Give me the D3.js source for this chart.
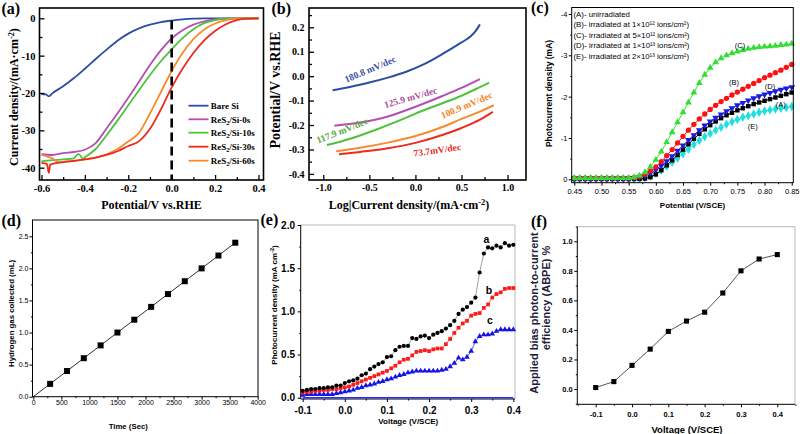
<!DOCTYPE html>
<html><head><meta charset="utf-8">
<script src="https://cdn.jsdelivr.net/npm/d3@7"></script>
<style>body{margin:0;background:#fff}svg{display:block}</style>
</head><body><script>
// ================= DATA =================
// (a) LSV curves
const aBareX = [-0.6,-0.58,-0.566,-0.55,-0.5,-0.45,-0.4,-0.35,-0.3,-0.25,-0.2,-0.15,-0.1,-0.05,0,0.05,0.1,0.15,0.2,0.3,0.4];
const aBareY = [-20.3,-20.4,-20.9,-20.1,-18.2,-16.0,-13.5,-10.9,-8.4,-6.0,-4.1,-2.7,-1.7,-1.0,-0.6,-0.3,-0.1,0,0,0,0];
const a0X = [-0.6,-0.55,-0.5,-0.45,-0.4,-0.35,-0.3,-0.25,-0.2,-0.15,-0.1,-0.05,0,0.05,0.1,0.15,0.2,0.25,0.3,0.4];
const a0Y = [-36.4,-36.6,-36.1,-35.8,-35.2,-33.4,-29.5,-25.5,-21.3,-16.9,-12.5,-8.6,-5.4,-3.2,-1.7,-0.8,-0.3,-0.1,0,0];
const a10X = [-0.6,-0.55,-0.5,-0.45,-0.43,-0.42,-0.41,-0.4,-0.35,-0.3,-0.25,-0.2,-0.15,-0.1,-0.05,0,0.05,0.1,0.15,0.2,0.25,0.3,0.4];
const a10Y = [-38.3,-38.0,-37.8,-37.5,-36.3,-36.8,-37.6,-37.2,-35.0,-31.3,-27.4,-23.3,-19.2,-15.2,-11.5,-8.3,-5.3,-2.9,-1.3,-0.5,-0.1,0,0];
const a30X = [-0.6,-0.575,-0.566,-0.56,-0.5,-0.45,-0.4,-0.35,-0.3,-0.25,-0.2,-0.15,-0.1,-0.05,0,0.05,0.1,0.15,0.2,0.25,0.3,0.35,0.4];
const a30Y = [-38.7,-39.0,-41.4,-39.2,-38.5,-38.2,-37.8,-37.3,-36.6,-35.6,-34.2,-32.9,-29.6,-24.4,-18.5,-13.5,-9.3,-5.9,-3.4,-1.6,-0.5,-0.1,0];
const a60X = [-0.6,-0.575,-0.55,-0.52,-0.5,-0.45,-0.4,-0.35,-0.3,-0.25,-0.2,-0.15,-0.1,-0.05,0,0.05,0.1,0.15,0.2,0.25,0.3,0.35,0.4];
const a60Y = [-36.6,-37.0,-37.5,-38.6,-38.5,-38.2,-37.8,-37.3,-36.4,-35.0,-33.0,-30.6,-25.5,-19.8,-14.1,-9.3,-5.6,-3.0,-1.4,-0.5,-0.1,0,0];
const aLegendPre = ["Bare Si","ReS","ReS","ReS","ReS"];
const aLegendSub = ["","2","2","2","2"];
const aLegendSuf = ["","/Si-0s","/Si-10s","/Si-30s","/Si-60s"];
const aXTicks = [-0.6,-0.4,-0.2,0,0.2,0.4], aXMinor = [-0.5,-0.3,-0.1,0.1,0.3];
const aYTicks = [0,-10,-20,-30,-40], aYMinor = [-5,-15,-25,-35];

// (b) Tafel
const bBlueX = [-0.9,-0.7,-0.5,-0.3,-0.1,0.1,0.3,0.5,0.6,0.65,0.7];
const bBlueY = [-0.058,-0.043,-0.026,-0.006,0.018,0.05,0.092,0.138,0.163,0.183,0.212];
const bPurpleX = [-0.88,-0.6,-0.3,0,0.3,0.5,0.7];
const bPurpleY = [-0.203,-0.19,-0.165,-0.125,-0.08,-0.048,-0.012];
const bGreenX = [-0.96,-0.7,-0.4,-0.1,0,0.3,0.5,0.7,0.8];
const bGreenY = [-0.282,-0.255,-0.215,-0.17,-0.153,-0.11,-0.08,-0.045,-0.027];
const bOrangeX = [-0.86,-0.6,-0.3,0,0.3,0.5,0.7,0.85];
const bOrangeY = [-0.307,-0.293,-0.272,-0.245,-0.207,-0.175,-0.145,-0.119];
const bRedX = [-0.83,-0.6,-0.3,0,0.3,0.5,0.7,0.84];
const bRedY = [-0.32,-0.31,-0.295,-0.273,-0.24,-0.212,-0.178,-0.146];
const bNotes = ["180.8 mV/dec","125.9 mV/dec","117.9 mV/dec","100.9 mV/dec","73.7mV/dec"];
const bXTicks = [-1,-0.5,0,0.5,1], bXMinor = [-0.75,-0.25,0.25,0.75];
const bYTicks = [-0.4,-0.3,-0.2,-0.1,0,0.1,0.2], bYMinor = [-0.35,-0.25,-0.15,-0.05,0.05,0.15,0.25];

// (c) photocurrent vs potential
const cX = [0.45,0.46,0.47,0.48,0.49,0.50,0.51,0.52,0.53,0.54,0.55,0.56,0.57,0.58,0.59,0.60,0.61,0.62,0.63,0.64,0.65,0.66,0.67,0.68,0.69,0.70,0.71,0.72,0.73,0.74,0.75,0.76,0.77,0.78,0.79,0.80,0.81,0.82,0.83,0.84,0.85];
const cA = [-0.01,-0.01,-0.01,-0.01,-0.01,-0.01,-0.01,-0.01,-0.01,-0.01,-0.01,-0.01,-0.01,-0.02,-0.05,-0.12,-0.22,-0.34,-0.46,-0.59,-0.72,-0.85,-0.98,-1.10,-1.21,-1.31,-1.40,-1.48,-1.55,-1.61,-1.67,-1.72,-1.77,-1.82,-1.86,-1.90,-1.94,-1.98,-2.02,-2.06,-2.10];
const cB = [-0.03,-0.03,-0.03,-0.03,-0.03,-0.03,-0.03,-0.03,-0.03,-0.03,-0.03,-0.04,-0.07,-0.12,-0.20,-0.30,-0.43,-0.57,-0.72,-0.88,-1.04,-1.19,-1.33,-1.46,-1.58,-1.69,-1.79,-1.88,-1.96,-2.04,-2.11,-2.18,-2.25,-2.32,-2.39,-2.46,-2.52,-2.58,-2.64,-2.71,-2.78];
const cC = [-0.03,-0.03,-0.03,-0.03,-0.03,-0.03,-0.03,-0.03,-0.03,-0.03,-0.03,-0.05,-0.09,-0.17,-0.30,-0.47,-0.67,-0.90,-1.14,-1.38,-1.62,-1.86,-2.10,-2.33,-2.53,-2.70,-2.83,-2.93,-3.00,-3.05,-3.09,-3.13,-3.16,-3.18,-3.20,-3.21,-3.22,-3.23,-3.25,-3.26,-3.28];
const cD = [-0.02,-0.02,-0.02,-0.02,-0.02,-0.02,-0.02,-0.02,-0.02,-0.02,-0.02,-0.03,-0.05,-0.09,-0.15,-0.23,-0.33,-0.44,-0.56,-0.69,-0.82,-0.95,-1.07,-1.19,-1.30,-1.40,-1.49,-1.57,-1.65,-1.72,-1.79,-1.85,-1.91,-1.96,-2.01,-2.05,-2.09,-2.13,-2.17,-2.20,-2.23];
const cE = [-0.01,-0.01,-0.01,-0.01,-0.01,-0.01,-0.01,-0.01,-0.01,-0.01,-0.01,-0.01,-0.02,-0.04,-0.08,-0.14,-0.22,-0.31,-0.41,-0.51,-0.62,-0.73,-0.84,-0.94,-1.03,-1.11,-1.19,-1.26,-1.33,-1.39,-1.45,-1.50,-1.54,-1.58,-1.62,-1.65,-1.68,-1.70,-1.72,-1.74,-1.76];
const cLegend = ["(A)- unirradiated","(B)- irradiated at 1×10¹² ions/cm²)","(C)- irradiated at 5×10¹² ions/cm²)","(D)- irradiated at 1×10¹³ ions/cm²)","(E)- irradiated at 2×10¹³ ions/cm²)"];
const cTags = ["(C)","(B)","(D)","(A)","(E)"];
const cXTicks = [0.45,0.50,0.55,0.60,0.65,0.70,0.75,0.80,0.85], cXMinor = [0.475,0.525,0.575,0.625,0.675,0.725,0.775,0.825];
const cYTicks = [0,-1,-2,-3,-4], cYMinor = [-0.5,-1.5,-2.5,-3.5];

// (d) hydrogen collected
const dX = [0,300,600,900,1200,1500,1800,2100,2400,2700,3000,3300,3600];
const dY = [0,0.2,0.4,0.6,0.8,1.0,1.2,1.4,1.6,1.8,2.0,2.2,2.4];
const dXTicks = [0,500,1000,1500,2000,2500,3000,3500,4000], dXMinor = [250,750,1250,1750,2250,2750,3250,3750];
const dYTicks = [0,0.5,1.0,1.5,2.0,2.5], dYMinor = [0.25,0.75,1.25,1.75,2.25];

// (e) photocurrent vs voltage
const eX = [-0.10,-0.09,-0.08,-0.07,-0.06,-0.05,-0.04,-0.03,-0.02,-0.01,0.00,0.01,0.02,0.03,0.04,0.05,0.06,0.07,0.08,0.09,0.10,0.11,0.12,0.13,0.14,0.15,0.16,0.17,0.18,0.19,0.20,0.21,0.22,0.23,0.24,0.25,0.26,0.27,0.28,0.29,0.30,0.31,0.32,0.33,0.34,0.35,0.36,0.37,0.38,0.39,0.40];
const eA = [0.08,0.09,0.10,0.10,0.11,0.11,0.12,0.12,0.14,0.14,0.17,0.19,0.20,0.22,0.26,0.28,0.33,0.36,0.39,0.41,0.47,0.48,0.55,0.59,0.60,0.60,0.69,0.68,0.71,0.72,0.69,0.73,0.75,0.77,0.80,0.84,0.89,0.97,1.02,1.05,1.10,1.16,1.45,1.67,1.74,1.73,1.76,1.74,1.79,1.76,1.77];
const eB = [0.06,0.07,0.07,0.08,0.08,0.09,0.09,0.10,0.10,0.11,0.12,0.13,0.15,0.17,0.19,0.21,0.23,0.25,0.27,0.29,0.31,0.34,0.37,0.41,0.44,0.45,0.49,0.53,0.54,0.55,0.54,0.56,0.57,0.57,0.62,0.68,0.75,0.81,0.86,0.89,0.95,0.97,0.98,1.04,1.08,1.16,1.20,1.22,1.26,1.27,1.27];
const eC = [0.03,0.04,0.04,0.04,0.04,0.04,0.04,0.04,0.05,0.06,0.07,0.08,0.09,0.11,0.12,0.14,0.15,0.16,0.18,0.19,0.21,0.22,0.24,0.26,0.27,0.29,0.30,0.31,0.31,0.31,0.31,0.31,0.31,0.32,0.33,0.36,0.40,0.46,0.44,0.47,0.54,0.65,0.71,0.73,0.73,0.74,0.77,0.79,0.79,0.79,0.79];
const eDarkX = [-0.1,0.4], eDarkY = [0,0];
const eTags = ["a","b","c"];
const eXTicks = [-0.1,0,0.1,0.2,0.3,0.4], eXMinor = [-0.05,0.05,0.15,0.25,0.35];
const eYTicks = [0,0.5,1.0,1.5,2.0], eYMinor = [0.25,0.75,1.25,1.75];

// (f) ABPE
const fX = [-0.1,-0.05,0,0.05,0.1,0.15,0.2,0.25,0.3,0.35,0.4];
const fY = [0.01,0.05,0.16,0.27,0.39,0.46,0.52,0.65,0.80,0.88,0.91];
const fXTicks = [-0.1,0,0.1,0.2,0.3,0.4], fXMinor = [-0.15,-0.05,0.05,0.15,0.25,0.35,0.45];
const fYTicks = [0,0.2,0.4,0.6,0.8,1.0], fYMinor = [-0.1,0.1,0.3,0.5,0.7,0.9,1.1];

// ================= DRAWING =================
const SERIF = "'Liberation Serif','Times New Roman',serif";
const SANS = "'Liberation Sans',Arial,Helvetica,sans-serif";
const svg = d3.select("body").append("svg").attr("width",800).attr("height",434);
svg.append("rect").attr("width",800).attr("height",434).attr("fill","#fff");

function pts(xs, ys){ return xs.map((v,i)=>[v, ys[i]]); }
function drawLine(g, xs, ys, sx, sy, color, w, curve){
  g.append("path").datum(pts(xs,ys))
    .attr("d", d3.line().x(d=>sx(d[0])).y(d=>sy(d[1])).curve(curve||d3.curveLinear))
    .attr("fill","none").attr("stroke",color).attr("stroke-width",w).attr("stroke-linejoin","round");
}
function drawMarks(g, xs, ys, sx, sy, type, size, color, rot, skip){
  g.selectAll(null).data(pts(xs,ys).filter((d,i)=>!(skip && skip(i)))).enter().append("path")
    .attr("d", d3.symbol().type(type).size(size))
    .attr("transform", d=>`translate(${sx(d[0])},${sy(d[1])})` + (rot?` rotate(${rot})`:""))
    .attr("fill", color);
}
function drawAxis(g, gen, tx, ty, o){
  const ag = g.append("g").attr("transform",`translate(${tx},${ty})`).call(gen);
  ag.select(".domain").remove();
  ag.selectAll(".tick line").attr("stroke","#000").attr("stroke-width",o.tw||1);
  ag.selectAll(".tick text").attr("font-family",o.ff).attr("font-size",o.fs)
    .attr("font-weight",o.fw||"bold").attr("fill","#000");
  return ag;
}
function axes(g, sx, sy, P, o){
  drawAxis(g, d3.axisBottom(sx).tickValues(o.xt).tickFormat(o.xf).tickSize(o.ts).tickPadding(o.xp), 0, P.y1, o);
  drawAxis(g, d3.axisBottom(sx).tickValues(o.xm).tickFormat("").tickSize(o.ms), 0, P.y1, o);
  drawAxis(g, d3.axisLeft(sy).tickValues(o.yt).tickFormat(o.yf).tickSize(o.ts).tickPadding(o.yp), P.x0, 0, o);
  drawAxis(g, d3.axisLeft(sy).tickValues(o.ym).tickFormat("").tickSize(o.ms), P.x0, 0, o);
}
function frame(g, P, w, color){
  g.append("rect").attr("x",P.x0).attr("y",P.y0).attr("width",P.x1-P.x0).attr("height",P.y1-P.y0)
    .attr("fill","none").attr("stroke",color||"#000").attr("stroke-width",w);
}
function openFrame(g, P, w){
  g.append("path").attr("d",`M${P.x0},${P.y0}H${P.x1}V${P.y1}`).attr("fill","none").attr("stroke","#b8b8b8").attr("stroke-width",1);
  g.append("path").attr("d",`M${P.x0},${P.y0}V${P.y1}H${P.x1}`).attr("fill","none").attr("stroke","#000").attr("stroke-width",w);
}
function txt(g, x, y, s, ff, fs, fw, anchor, color){
  return g.append("text").attr("x",x).attr("y",y).attr("font-family",ff).attr("font-size",fs)
    .attr("font-weight",fw).attr("text-anchor",anchor||"start").attr("fill",color||"#000").text(s);
}
function vtxt(g, x, y, ff, fs, fw, color){
  return g.append("text").attr("transform",`translate(${x},${y}) rotate(-90)`).attr("font-family",ff)
    .attr("font-size",fs).attr("font-weight",fw).attr("text-anchor","middle").attr("fill",color||"#000");
}
function sup(t, s, d){ t.append("tspan").attr("dy",-d).attr("font-size","70%").text(s); }
function after(t, s, d){ t.append("tspan").attr("dy",d).text(s); }

// ---------- (a) ----------
{
  const P = {x0:39.5, x1:263.5, y0:8, y1:180};
  const x = d3.scaleLinear().domain([-0.609,0.423]).range([P.x0,P.x1]);
  const y = d3.scaleLinear().domain([-43.3,2.76]).range([P.y1,P.y0]);
  const g = svg.append("g");
  const cols = ["#2b4ea3","#b24fb2","#4fc23a","#ee2a1e","#f68b2b"];
  drawLine(g, aBareX, aBareY, x, y, cols[0], 1.8, d3.curveMonotoneX);
  drawLine(g, a0X, a0Y, x, y, cols[1], 1.8, d3.curveMonotoneX);
  drawLine(g, a10X, a10Y, x, y, cols[2], 1.8, d3.curveMonotoneX);
  drawLine(g, a60X, a60Y, x, y, cols[4], 1.8, d3.curveMonotoneX);
  drawLine(g, a30X, a30Y, x, y, cols[3], 1.8, d3.curveMonotoneX);
  g.append("line").attr("x1",x(0)).attr("x2",x(0)).attr("y1",y(-0.6)).attr("y2",P.y1)
    .attr("stroke","#000").attr("stroke-width",2.6).attr("stroke-dasharray","9,5");
  frame(g, P, 1.6);
  axes(g, x, y, P, {xt:aXTicks, xm:aXMinor, yt:aYTicks, ym:aYMinor, xf:d=>d.toFixed(1), yf:d=>String(d),
    ts:-5, ms:-3, xp:4.5, yp:4, ff:SERIF, fs:10.5, tw:1.3});
  const ly = [105.7,119.3,132.7,146.7,160.7];
  ly.forEach((yy,i)=>{
    g.append("line").attr("x1",188.5).attr("x2",208.5).attr("y1",yy).attr("y2",yy).attr("stroke",cols[i]).attr("stroke-width",1.8);
    const t = txt(g, 210.7, yy+3.2, aLegendPre[i], SERIF, 9, "bold");
    if (aLegendSub[i]) {
      t.append("tspan").attr("dy",2).attr("font-size","70%").text(aLegendSub[i]);
      t.append("tspan").attr("dy",-2).text(aLegendSuf[i]);
    }
  });
  txt(g, 151.5, 209, "Potential/V vs.RHE", SERIF, 12, "bold", "middle");
  const t = vtxt(g, 18.2, 97, SERIF, 12, "bold");
  t.append("tspan").text("Current density/(mA·cm"); sup(t,"-2",4); after(t,")",4);
  txt(g, 1.5, 13.5, "(a)", SERIF, 16, "bold");
}

// ---------- (b) ----------
{
  const P = {x0:309, x1:526, y0:8, y1:180};
  const x = d3.scaleLinear().domain([-1.155,1.2]).range([P.x0,P.x1]);
  const y = d3.scaleLinear().domain([-0.425,0.279]).range([P.y1,P.y0]);
  const g = svg.append("g");
  const cols = ["#2b4ea3","#b24fb2","#4fc23a","#f68b2b","#ee2a1e"];
  drawLine(g, bBlueX, bBlueY, x, y, cols[0], 2, d3.curveMonotoneX);
  drawLine(g, bPurpleX, bPurpleY, x, y, cols[1], 2, d3.curveMonotoneX);
  drawLine(g, bGreenX, bGreenY, x, y, cols[2], 2, d3.curveMonotoneX);
  drawLine(g, bOrangeX, bOrangeY, x, y, cols[3], 2, d3.curveMonotoneX);
  drawLine(g, bRedX, bRedY, x, y, cols[4], 2, d3.curveMonotoneX);
  frame(g, P, 1.6);
  axes(g, x, y, P, {xt:bXTicks, xm:bXMinor, yt:bYTicks, ym:bYMinor, xf:d=>d.toFixed(1), yf:d=>d.toFixed(1),
    ts:-5, ms:-3, xp:3.5, yp:4.5, ff:SERIF, fs:10, tw:1.3});
  const notePos = [[370.3,69.3,-23],[410.7,97.7,-16],[342.3,130.7,-21.5],[466.7,105.3,-22.7],[437.3,150.3,-8]];
  const noteCol = ["#3a4fa3","#a94d9e","#55aa3a","#f08424","#e52a20"];
  notePos.forEach((p,i)=>{
    g.append("text").attr("transform",`translate(${p[0]},${p[1]}) rotate(${p[2]})`)
      .attr("font-family",SERIF).attr("font-size",9.5).attr("font-weight","bold")
      .attr("text-anchor","middle").attr("dominant-baseline","central").attr("fill",noteCol[i]).text(bNotes[i]);
  });
  const t1 = txt(g, 409, 209, "Log|Current density/(mA·cm", SERIF, 12, "bold", "middle");
  sup(t1,"-2",4); after(t1,")",4);
  vtxt(g, 279.5, 90, SERIF, 14, "bold").text("Potential/V vs.RHE");
  txt(g, 271.5, 13.5, "(b)", SERIF, 16, "bold");
}

// ---------- (c) ----------
{
  const P = {x0:571.7, x1:793.3, y0:7.5, y1:182.7};
  const x = d3.scaleLinear().domain([0.4452,0.8529]).range([P.x0,P.x1]);
  const y = d3.scaleLinear().domain([0.082,-4.157]).range([P.y1,P.y0]);
  const g = svg.append("g");
  const series = [
    [cE,"#22dede",d3.symbolDiamond,26,0],
    [cA,"#000000",d3.symbolSquare,20,0],
    [cD,"#1a1ae0",d3.symbolTriangle,20,180],
    [cB,"#ff1010",d3.symbolCircle,22,0],
    [cC,"#33dd33",d3.symbolTriangle,20,0]
  ];
  series.forEach(s=>{
    drawLine(g, cX, s[0], x, y, s[1], 1);
    drawMarks(g, cX, s[0], x, y, s[2], s[3], s[1], s[4]);
  });
  frame(g, P, 1);
  axes(g, x, y, P, {xt:cXTicks, xm:cXMinor, yt:cYTicks, ym:cYMinor, xf:d=>d.toFixed(2), yf:d=>String(d),
    ts:3, ms:1.5, xp:2.5, yp:1.2, ff:SANS, fs:7.5, fw:"normal", tw:1});
  const ly = [16.8,27.1,37.5,48.1,58.8];
  cLegend.forEach((s,i)=> txt(g, 573.5, ly[i], s, SANS, 7.8, "normal"));
  const tagPos = [[740,48],[734,84.7],[770,89],[780.7,107],[752.7,129]];
  cTags.forEach((s,i)=> txt(g, tagPos[i][0], tagPos[i][1], s, SANS, 7.5, "normal", "middle"));
  txt(g, 692.5, 208, "Potential (V/SCE)", SANS, 8, "bold", "middle");
  vtxt(g, 552.3, 93.5, SANS, 8.5, "bold").text("Photocurrent density (mA)");
  txt(g, 531, 12.5, "(c)", SERIF, 16, "bold");
}

// ---------- (d) ----------
{
  const P = {x0:32.5, x1:258, y0:220, y1:396.7};
  const x = d3.scaleLinear().domain([-14.3,4005]).range([P.x0,P.x1]);
  const y = d3.scaleLinear().domain([0,2.754]).range([P.y1,P.y0]);
  const g = svg.append("g");
  drawLine(g, dX, dY, x, y, "#333", 1);
  drawMarks(g, dX, dY, x, y, d3.symbolSquare, 36, "#000", 0, i=>i===0);
  frame(g, P, 1);
  axes(g, x, y, P, {xt:dXTicks, xm:dXMinor, yt:dYTicks, ym:dYMinor, xf:d=>String(d), yf:d=>d.toFixed(1),
    ts:3, ms:1.5, xp:0.5, yp:1, ff:SANS, fs:7, fw:"normal", tw:1});
  txt(g, 128.3, 428.5, "Time (Sec)", SANS, 7.8, "bold", "middle");
  vtxt(g, 13.5, 313.5, SANS, 7.8, "bold").text("Hydrogen gas collected (mL)");
  txt(g, 1.5, 226, "(d)", SERIF, 16, "bold");
}

// ---------- (e) ----------
{
  const P = {x0:300.7, x1:515, y0:225, y1:399};
  const x = d3.scaleLinear().domain([-0.1047,0.404]).range([P.x0,P.x1]);
  const y = d3.scaleLinear().domain([-0.015,2.0]).range([P.y1,P.y0]);
  const g = svg.append("g");
  openFrame(g, P, 1);
  drawLine(g, eX, eC, x, y, "#2a2af0", 0.8);
  drawLine(g, eX, eB, x, y, "#ff4a4a", 0.8);
  drawLine(g, eX, eA, x, y, "#888", 0.8);
  drawMarks(g, eX, eC, x, y, d3.symbolTriangle, 14, "#1414e6");
  drawMarks(g, eX, eB, x, y, d3.symbolSquare, 14, "#ff1a1a");
  drawMarks(g, eX, eA, x, y, d3.symbolCircle, 14, "#000");
  drawLine(g, eDarkX, eDarkY, x, y, "#2a2af0", 1.6);
  axes(g, x, y, P, {xt:eXTicks, xm:eXMinor, yt:eYTicks, ym:eYMinor, xf:d=>d.toFixed(1), yf:d=>d.toFixed(1),
    ts:3, ms:1.5, xp:4.5, yp:2.7, ff:SANS, fs:10, fw:"bold", tw:1});
  const tagPos = [[486.5,242.5],[489,293.5],[490,324]];
  eTags.forEach((s,i)=> txt(g, tagPos[i][0], tagPos[i][1], s, SANS, 10.5, "bold", "middle"));
  txt(g, 408.3, 423.5, "Voltage (V/SCE)", SANS, 8, "bold", "middle");
  const t = vtxt(g, 277, 305, SANS, 8, "bold");
  t.append("tspan").text("Photocurrent density (mA cm"); sup(t,"-2",3); after(t,")",3);
  txt(g, 260.5, 224.5, "(e)", SERIF, 16, "bold");
}

// ---------- (f) ----------
{
  const P = {x0:577.3, x1:795, y0:226.7, y1:404.3};
  const x = d3.scaleLinear().domain([-0.1507,0.4488]).range([P.x0,P.x1]);
  const y = d3.scaleLinear().domain([-0.1036,1.0988]).range([P.y1,P.y0]);
  const g = svg.append("g");
  openFrame(g, P, 1);
  drawLine(g, fX, fY, x, y, "#555", 1);
  drawMarks(g, fX, fY, x, y, d3.symbolSquare, 26, "#000");
  axes(g, x, y, P, {xt:fXTicks, xm:fXMinor, yt:fYTicks, ym:fYMinor, xf:d=>d.toFixed(1), yf:d=>d.toFixed(1),
    ts:3, ms:1.5, xp:4.5, yp:1.6, ff:SANS, fs:7.5, fw:"bold", tw:1});
  txt(g, 687, 432.7, "Voltage (V/SCE)", SANS, 9.5, "bold", "middle");
  vtxt(g, 538, 313, SANS, 11, "bold", "#20203a").text("Applied bias photon-to-current");
  vtxt(g, 550, 298, SANS, 11, "bold", "#20203a").text("efficiency (ABPE) %");
  txt(g, 531, 227, "(f)", SERIF, 16, "bold");
}
</script></body></html>
